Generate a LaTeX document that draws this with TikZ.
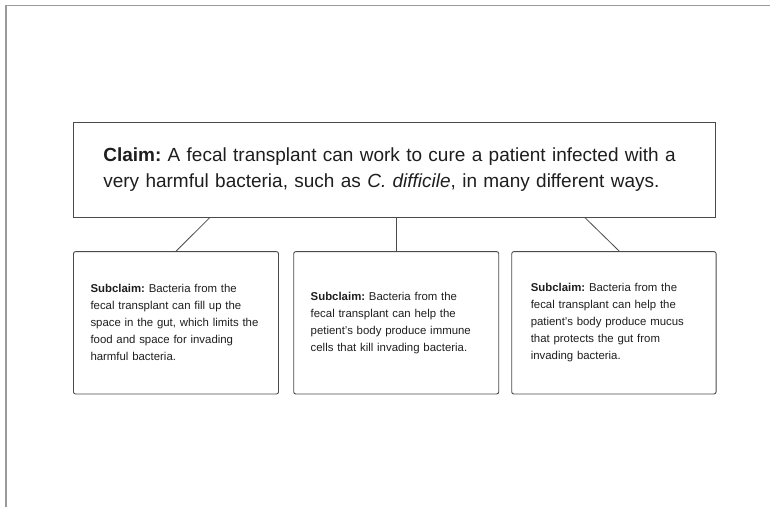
\documentclass[tikz,border=0pt]{standalone}
\usepackage{fontspec}
\setmainfont{Liberation Sans}
\definecolor{txt}{HTML}{1E1E1E}
\definecolor{edge}{HTML}{4A4A4A}
\definecolor{frame}{HTML}{9A9A9A}
\frenchspacing
\begin{document}
\begin{tikzpicture}[x=1pt,y=-1pt,
  claimbox/.style={draw=edge, line width=0.9pt, text=txt, align=left,
    minimum width=642.4pt, minimum height=94.3pt, inner xsep=30pt,
    text width=582.4pt, font=\fontsize{19}{26}\selectfont},
  subbox/.style={draw=edge, line width=0.9pt, rounded corners=2pt, text=txt, align=left,
    minimum width=205pt, minimum height=142.3pt, inner xsep=17pt,
    text width=171pt, font=\fontsize{11.4}{17}\selectfont},
  link/.style={draw=edge, line width=0.8pt}]
\useasboundingbox (0,0) rectangle (770,507);
\draw[frame, line width=1.5pt] (6,507) -- (6,5.5) -- (770,5.5);
\node[claimbox] (claim) at (394.5,169.8)
  {\textbf{Claim:} A fecal transplant can work to cure a patient infected with a\\
   very harmful bacteria, such as \textit{C. difficile}, in many different ways.};
\node[subbox] (s1) at (176,322.8)
  {\textbf{Subclaim:} Bacteria from the\\ fecal transplant can fill up the\\
   space in the gut, which limits the\\ food and space for invading\\ harmful bacteria.};
\node[subbox] (s2) at (396.2,322.8)
  {\textbf{Subclaim:} Bacteria from the\\ fecal transplant can help the\\
   petient's body produce immune\\ cells that kill invading bacteria.};
\node[subbox, minimum width=204.3pt, text width=166.3pt, inner xsep=19pt] (s3) at (613.9,322.8)
  {\textbf{Subclaim:} Bacteria from the\\ fecal transplant can help the\\
   patient's body produce mucus\\ that protects the gut from\\ invading bacteria.};
\draw[link] (claim.south -| 210,0) -- (s1.north -| 176,0);
\draw[link] (claim.south -| 396.7,0) -- (s2.north -| 396.7,0);
\draw[link] (claim.south -| 584.7,0) -- (s3.north -| 619.3,0);
\end{tikzpicture}
\end{document}
